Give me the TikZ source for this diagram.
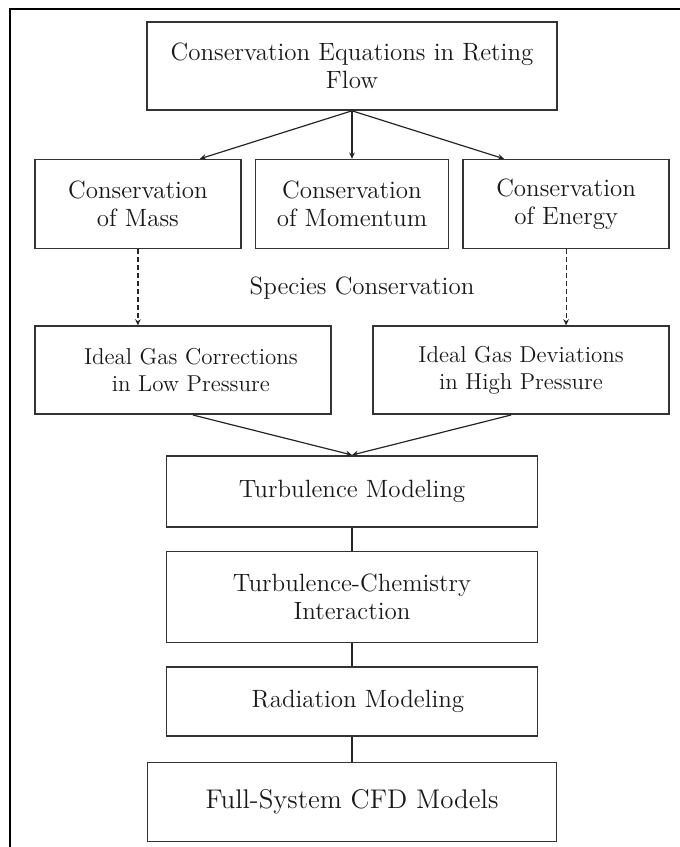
\documentclass[tikz,border=0pt]{standalone}
\usepackage{xcolor}
\usepackage{tikz}
\usetikzlibrary{arrows.meta,positioning}

\begin{document}
\begin{tikzpicture}[
  node distance=24pt and 6.5pt,
  font=\fontsize{12.5}{14}\selectfont,
  box/.style={draw=black!80, line width=0.8pt, align=center, text=black!90, minimum height=44.5pt, inner sep=2pt},
  widebox/.style={box, minimum width=148pt, minimum height=44pt, font=\fontsize{11.5}{13.5}\selectfont},
  chainbox/.style={box, minimum width=185.5pt},
  line/.style={-{Stealth[length=1.1mm, width=1mm]}, line width=0.6pt, black!85},
  dashline/.style={line, dash pattern=on 2.5pt off 1.5pt},
  link/.style={line width=0.6pt, black!85}
]
\useasboundingbox (0,0) rectangle (340pt,-423.5pt);
\draw[line width=1.4pt] (5pt,-423.5pt) |- (340pt,-4.5pt);

\node[box, minimum width=205pt, minimum height=44pt] (rflow) at (176pt,-33pt) {Conservation Equations in Reting\\Flow};
\node[box, minimum width=96.5pt, below=24pt of rflow] (momentum) {Conservation\\of Momentum};
\node[box, minimum width=103pt, left=of momentum] (mass) {Conservation\\of Mass};
\node[box, minimum width=103pt, right=of momentum] (energy) {Conservation\\of Energy};
\node[below=19.5pt of momentum, anchor=center, xshift=5pt, text=black!90] (species) {Species Conservation};
\node[widebox, below=38pt of mass.south west, anchor=north west] (lowp) {\hspace*{8pt}Ideal Gas Corrections\\\hspace*{8pt}in Low Pressure};
\node[widebox, below=38pt of energy.south east, anchor=north east] (highp) {Ideal Gas Deviations\\in High Pressure};
\coordinate (vmeet) at (momentum |- lowp.south);
\node[chainbox, minimum height=35.5pt, below=20pt of vmeet] (turb) {Turbulence Modeling};
\node[chainbox, minimum height=45.5pt, below=11.5pt of turb] (tci) {Turbulence-Chemistry\\Interaction};
\node[chainbox, minimum height=34.5pt, below=11.5pt of tci] (rad) {\hspace*{6pt}Radiation Modeling};
\node[box, minimum width=204.5pt, minimum height=39.5pt, below=12.5pt of rad, font=\fontsize{13.5}{16}\selectfont] (cfd) {Full-System CFD Models};

\draw[line] (rflow.south) -- ([xshift=31pt]mass.north);
\draw[line] (rflow.south) -- (momentum.north);
\draw[line] (rflow.south) -- ([xshift=-31pt]energy.north);
\draw[dashline] (mass.south) -- (mass.south |- lowp.north);
\draw[dashline] (energy.south) -- (energy.south |- highp.north);
\draw[line] ([xshift=5pt]lowp.south) -- (turb.north);
\draw[line] ([xshift=-5pt]highp.south) -- (turb.north);
\draw[link] (turb) -- (tci);
\draw[link] (tci) -- (rad);
\draw[link] (rad) -- (cfd);
\end{tikzpicture}
\end{document}
